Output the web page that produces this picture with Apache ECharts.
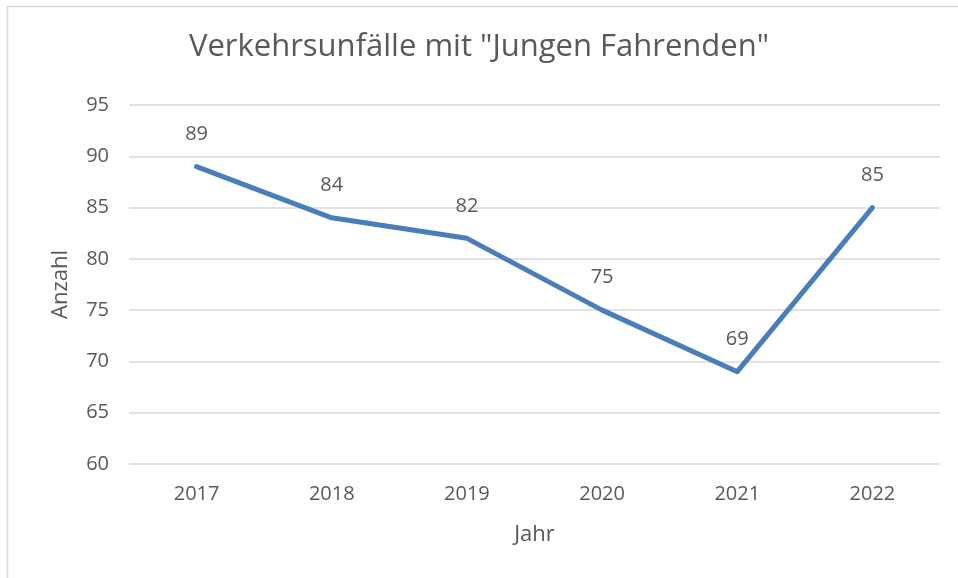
<!DOCTYPE html>
<html>
<head>
<meta charset="utf-8">
<script src="https://cdn.jsdelivr.net/npm/echarts@6/dist/echarts.min.js"></script>
<style>
  html, body { margin: 0; padding: 0; background: #fff; }
  #chart { width: 958px; height: 578px; }
</style>
</head>
<body>
<div id="chart"></div>
<script>
const years = ['2017', '2018', '2019', '2020', '2021', '2022']
const unfaelle = [89, 84, 82, 75, 69, 85]

const textColor = '#595959'
const lineColor = '#4a7ebb'
const font = 'Open Sans, Lato, sans-serif'

const chart = echarts.init(document.getElementById('chart'))
chart.setOption({
  backgroundColor: '#fff',
  animation: false,
  graphic: [{
    type: 'rect',
    shape: { x: 7.5, y: 6.5, width: 1000, height: 1000 },
    style: { fill: 'none', stroke: '#d9d9d9', lineWidth: 1.5 },
    silent: true
  }],
  title: {
    text: 'Verkehrsunfälle mit "Jungen Fahrenden"',
    left: 'center',
    top: 27,
    textStyle: {
      color: textColor,
      fontSize: 31,
      fontWeight: 'normal',
      fontFamily: font
    }
  },
  grid: {
    left: 129,
    right: 18,
    top: 105,
    bottom: 114
  },
  xAxis: {
    type: 'category',
    data: years,
    name: 'Jahr',
    nameLocation: 'middle',
    nameGap: 60,
    nameTextStyle: { color: textColor, fontSize: 22, fontFamily: font },
    axisLine: { show: false },
    axisTick: { show: false },
    axisLabel: { color: textColor, fontSize: 20, fontFamily: font, margin: 20 }
  },
  yAxis: {
    type: 'value',
    min: 60,
    max: 95,
    interval: 5,
    name: 'Anzahl',
    nameLocation: 'middle',
    nameGap: 57,
    nameTextStyle: { color: textColor, fontSize: 22, fontFamily: font },
    axisLine: { show: false },
    axisTick: { show: false },
    axisLabel: { color: textColor, fontSize: 20, fontFamily: font, margin: 20 },
    splitLine: { lineStyle: { color: '#d9d9d9', width: 1.5 } }
  },
  series: [{
    name: 'Anzahl',
    type: 'line',
    data: unfaelle,
    symbol: 'circle',
    symbolSize: 1,
    itemStyle: { color: lineColor },
    lineStyle: { color: lineColor, width: 5, cap: 'round', join: 'round' },
    label: {
      show: true,
      position: 'top',
      distance: 22,
      color: textColor,
      fontSize: 20,
      fontFamily: font
    }
  }]
})
</script>
</body>
</html>
